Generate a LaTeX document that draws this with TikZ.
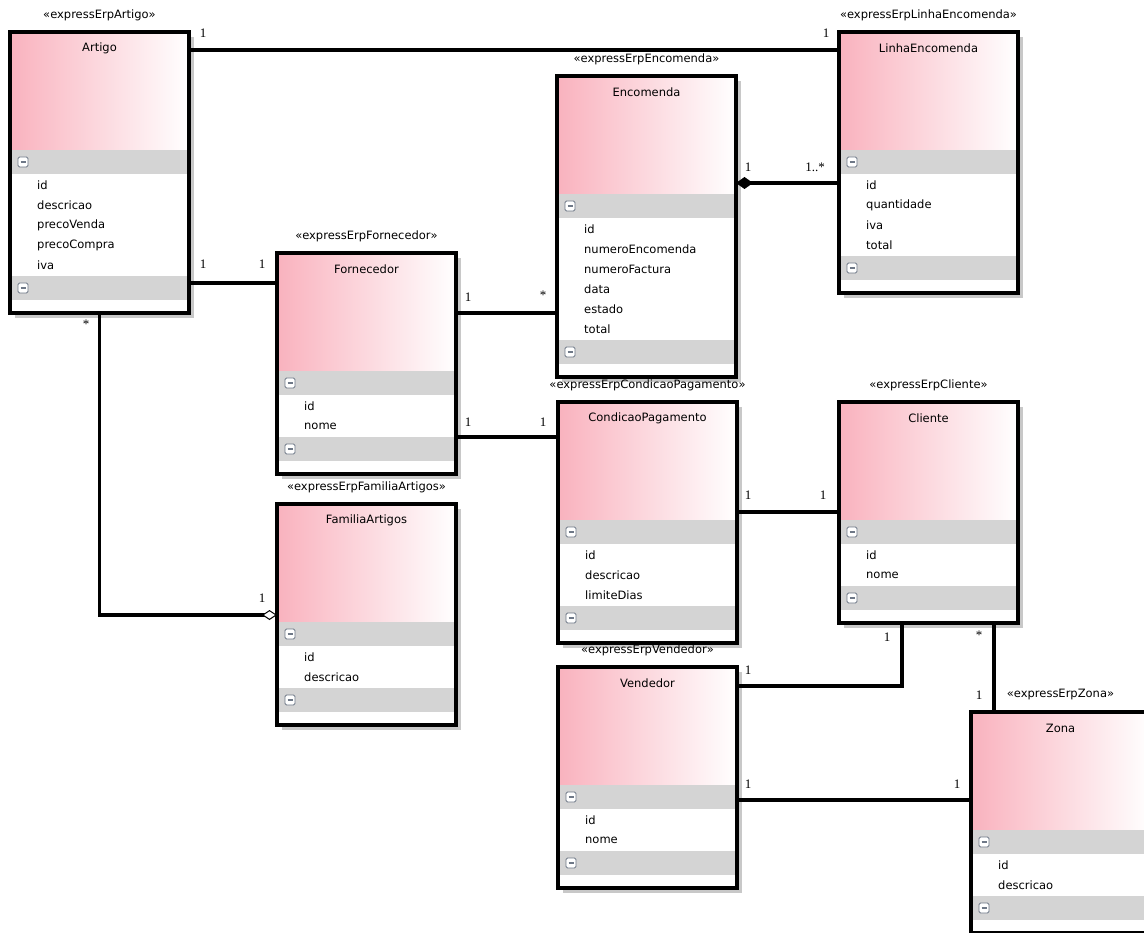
\documentclass[tikz,border=0pt]{standalone}
\usepackage{fontspec}
\setmainfont{DejaVu Sans}
\newfontfamily\multfont{Liberation Serif}
\usetikzlibrary{arrows.meta,calc}

\definecolor{rosa}{RGB}{249,178,190}
\definecolor{bande}{RGB}{212,212,212}
\definecolor{ombre}{RGB}{200,200,200}
\definecolor{icone}{RGB}{110,120,135}

\tikzset{
  classe/.style={draw=black,line width=3.2pt,rectangle,minimum width=179pt,
    inner sep=0pt,outer sep=0pt,anchor=north west},
  assoc/.style={line width=3.2pt,black},
  attr/.style={anchor=west,inner sep=0pt,font=\fontsize{11.5}{13}\selectfont},
  titre/.style={inner sep=0pt,font=\fontsize{11.5}{13}\selectfont},
  stereo/.style={inner sep=0pt,font=\fontsize{11.5}{13}\selectfont},
  mult/.style={inner sep=0pt,font=\multfont\fontsize{13}{15}\selectfont},
}

\begin{document}
\begin{tikzpicture}[x=1pt,y=-1pt]
  \useasboundingbox (0,0) rectangle (1144,933);

  %--- Petite icone "replier" ---
  \def\icone#1#2{%
    \draw[draw=icone,fill=white,rounded corners=1.5pt,line width=0.9pt]
      ({#1-5},{#2-5}) rectangle ({#1+5},{#2+5});
    \draw[draw=icone,line width=1.4pt] ({#1-2.5},{#2}) -- ({#1+2.5},{#2});
  }

  %--- Classe : nom, x, y, nb attributs, titre, stereotype, attributs ---
  \def\classe#1#2#3#4#5#6#7{%
    \pgfmathsetmacro\hh{181+20*#4}%
    \pgfmathsetmacro\yb{#3+144+20*#4}%
    \fill[ombre] ({#2+5},{#3+5}) rectangle ({#2+184},{#3+\hh+5});
    \fill[white] (#2,#3) rectangle ({#2+179},{#3+\hh});
    \shade[left color=rosa,right color=white] (#2,#3) rectangle ({#2+179},{#3+118});
    \fill[bande] ({#2+2},{#3+118}) rectangle ({#2+177},{#3+142});
    \fill[bande] ({#2+2},{\yb}) rectangle ({#2+177},{\yb+24});
    \icone{#2+13}{#3+130}
    \icone{#2+13}{\yb+12}
    \foreach \a [count=\i] in {#7}
      \node[attr] at ({#2+27},{#3+142+20*\i-9}) {\a};
    \node[classe,minimum height=\hh pt] (#1) at (#2,#3) {};
    \node[titre] (#1-titre) at ({#2+89.5},{#3+16}) {#5};
    \node[stereo] (#1-stereo) at ({#2+89.5},{#3-17}) {«#6»};
  }

  %--- Classes ---
  \classe{artigo}{10}{32}{5}{Artigo}{expressErpArtigo}{id,descricao,precoVenda,precoCompra,iva}
  \classe{linha}{839}{32}{4}{LinhaEncomenda}{expressErpLinhaEncomenda}{id,quantidade,iva,total}
  \classe{encomenda}{557}{76}{6}{Encomenda}{expressErpEncomenda}{id,numeroEncomenda,numeroFactura,data,estado,total}
  \classe{fornecedor}{277}{253}{2}{Fornecedor}{expressErpFornecedor}{id,nome}
  \classe{condicao}{558}{402}{3}{CondicaoPagamento}{expressErpCondicaoPagamento}{id,descricao,limiteDias}
  \classe{cliente}{839}{402}{2}{Cliente}{expressErpCliente}{id,nome}
  \classe{familia}{277}{504}{2}{FamiliaArtigos}{expressErpFamiliaArtigos}{id,descricao}
  \classe{vendedor}{558}{667}{2}{Vendedor}{expressErpVendedor}{id,nome}
  \classe{zona}{971}{712}{2}{Zona}{expressErpZona}{id,descricao}

  %--- Associations ---
  \draw[assoc] ($(artigo.north east)+(0,18)$) -- ($(linha.north west)+(0,18)$);
  \draw[assoc] ($(artigo.east |- fornecedor.north)+(0,30)$) -- ($(fornecedor.north west)+(0,30)$);
  \draw[assoc,-{Diamond[open,fill=white,length=15pt,width=10pt,line width=1pt]}]
    (artigo.south) |- ($(familia.north west)+(0,111)$);
  \draw[assoc,{Diamond[length=17pt,width=12pt]}-]
    ($(encomenda.north east)+(0,107)$) -- ($(linha.west |- encomenda.north)+(0,107)$);
  \draw[assoc] ($(fornecedor.north east)+(0,60)$) -- ($(encomenda.west |- fornecedor.north)+(0,60)$);
  \draw[assoc] ($(fornecedor.north east)+(0,184)$) -- ($(condicao.west |- fornecedor.north)+(0,184)$);
  \draw[assoc] ($(condicao.north east)+(0,110)$) -- ($(cliente.north west)+(0,110)$);
  \draw[assoc] ($(vendedor.north east)+(0,19)$) -| ($(cliente.south west)+(63,0)$);
  \draw[assoc] ($(cliente.south west)+(155,0)$) -- ($(zona.north west)+(23,0)$);
  \draw[assoc] ($(vendedor.north east)+(0,133)$) -- ($(zona.north west)+(0,88)$);

  %--- Multiplicites ---
  \node[mult] (m1) at (203,33) {1};
  \node[mult] (m2) at (826,33) {1};
  \node[mult] (m3) at (203,264) {1};
  \node[mult] (m4) at (262,264) {1};
  \node[mult] (m5) at (86,324) {*};
  \node[mult] (m6) at (262,598) {1};
  \node[mult] (m7) at (748,167) {1};
  \node[mult] (m8) at (815,167) {1..*};
  \node[mult] (m9) at (468,297) {1};
  \node[mult] (m10) at (543,295) {*};
  \node[mult] (m11) at (468,422) {1};
  \node[mult] (m12) at (543,422) {1};
  \node[mult] (m13) at (748,495) {1};
  \node[mult] (m14) at (823,495) {1};
  \node[mult] (m15) at (748,670) {1};
  \node[mult] (m16) at (887,637) {1};
  \node[mult] (m17) at (979,635) {*};
  \node[mult] (m18) at (979,695) {1};
  \node[mult] (m19) at (748,784) {1};
  \node[mult] (m20) at (957,784) {1};

\end{tikzpicture}
\end{document}
